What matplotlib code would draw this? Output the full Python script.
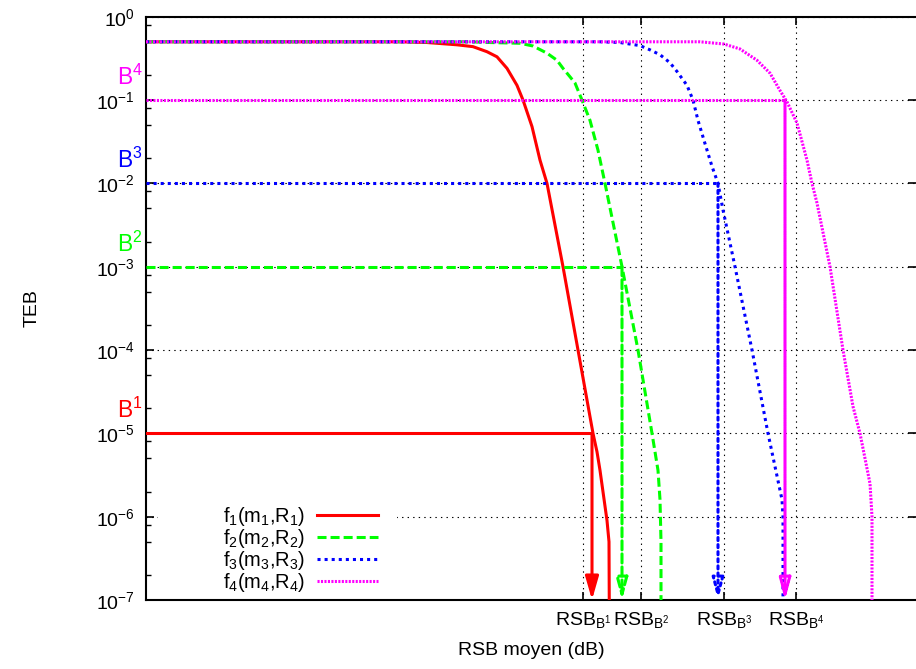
import matplotlib
matplotlib.use("Agg")
import matplotlib.pyplot as plt
from matplotlib.patches import Rectangle
from matplotlib.ticker import FixedLocator, LogLocator, NullFormatter

plt.rcParams["font.family"] = ["Liberation Sans", "DejaVu Sans"]
plt.rcParams["mathtext.fontset"] = "custom"
plt.rcParams["mathtext.rm"] = "Liberation Sans"
plt.rcParams["mathtext.it"] = "Liberation Sans"
plt.rcParams["mathtext.default"] = "regular"
plt.rcParams["lines.scale_dashes"] = False

# --- data (x: RSB moyen in dB, arbitrary origin; y: TEB)
rsb_f1 = [0.0, 12.7, 14.05, 15.55, 16.35, 17.05, 17.55, 18.05, 18.55, 18.85,
          19.3, 19.7, 20.05, 20.85, 21.6, 22.35, 22.55, 22.7, 23.05, 23.15, 23.2]
teb_f1 = [0.5, 0.5, 0.49, 0.46, 0.437, 0.38, 0.33, 0.24, 0.15, 0.10,
          0.048, 0.019, 1e-2, 1e-3, 1e-4, 1e-5, 6e-6, 3.6e-6, 9e-7, 5e-7, 1e-9]

rsb_f2 = [0.0, 16.2, 17.2, 18.7, 19.35, 20.05, 20.55, 20.85, 21.2, 21.45,
          21.8, 22.2, 22.6, 22.95, 23.8, 24.6, 25.3, 25.6, 25.7, 25.75, 25.75]
teb_f2 = [0.5, 0.5, 0.49, 0.48, 0.445, 0.365, 0.30, 0.24, 0.19, 0.16,
          0.10, 0.057, 0.025, 1e-2, 1e-3, 1e-4, 1e-5, 3.6e-6, 1.6e-6, 5e-7, 1e-9]

rsb_f3 = [0.0, 22.7, 23.7, 24.7, 25.2, 25.7, 26.2, 26.55, 27.05, 27.35, 27.6,
          27.95, 28.3, 28.6, 28.85, 29.45, 30.3, 31.1, 31.8, 31.85, 31.85]
teb_f3 = [0.5, 0.5, 0.49, 0.45, 0.40, 0.35, 0.28, 0.22, 0.15, 0.10, 0.057,
          0.03, 0.016, 1e-2, 4.8e-3, 1e-3, 1e-4, 1e-5, 1.6e-6, 1e-6, 1e-9]

rsb_f4 = [0.0, 27.7, 28.9, 29.7, 30.55, 31.2, 31.7, 32.05, 32.55, 33.05,
          33.3, 33.55, 34.2, 34.85, 35.35, 35.7, 36.2, 36.3, 36.3]
teb_f4 = [0.5, 0.5, 0.47, 0.41, 0.30, 0.21, 0.13, 0.095, 0.053, 0.019,
          1e-2, 5.8e-3, 1e-3, 1e-4, 2.1e-5, 1e-5, 2.5e-6, 1e-6, 1e-9]

series_labels = ["$f_1(m_1{,}R_1)$", "$f_2(m_2{,}R_2)$",
                 "$f_3(m_3{,}R_3)$", "$f_4(m_4{,}R_4)$"]
target_labels = ["B$^1$", "B$^2$", "B$^3$", "B$^4$"]
teb_target = [1e-5, 1e-3, 1e-2, 1e-1]
rsb_cross = [22.3, 23.8, 28.6, 31.95]

xtick_pos = [21.85, 24.75, 28.9, 32.5]
xtick_labels = ["$RSB_{B^1}$", "$RSB_{B^2}$", "$RSB_{B^3}$", "$RSB_{B^4}$"]
ytick_pos = [1e0, 1e-1, 1e-2, 1e-3, 1e-4, 1e-5, 1e-6, 1e-7]
ytick_labels = ["$10^{0}$", "$10^{-1}$", "$10^{-2}$", "$10^{-3}$",
                "$10^{-4}$", "$10^{-5}$", "$10^{-6}$", "$10^{-7}$"]

colors = ["#ff0000", "#00ff00", "#0000ff", "#ff00ff"]
styles = ["-", (0, (6.5, 2.9)), (0, (2.2, 2.9)), (0, (1.5, 1.0))]
LW = 2.2
FS = 14

fig = plt.figure(figsize=(9.16, 6.69), dpi=100)
ax = fig.add_axes([146 / 916, 69 / 669, 770 / 916, 583.3 / 669])
ax.set_yscale("log")
ax.set_xlim(0, 38.5)
ax.set_ylim(1e-7, 1e0)
ax.set_axisbelow(True)

curves = [(rsb_f1, teb_f1), (rsb_f2, teb_f2), (rsb_f3, teb_f3), (rsb_f4, teb_f4)]
for (xs, ys), c, ls, lab in zip(curves, colors, styles, series_labels):
    ax.plot(xs, ys, color=c, linestyle=ls, linewidth=LW, label=lab,
            dash_capstyle="butt", zorder=3)

# target TEB: horizontal line to the crossing, then arrow down to the axis
for thr, xc, c, ls, tl in zip(teb_target, rsb_cross, colors, styles, target_labels):
    ax.plot([0, xc], [thr, thr], color=c, linestyle=ls, linewidth=LW,
            dash_capstyle="butt", zorder=3)
    solid = ls == "-"
    head = ("-|>,head_length=1.4,head_width=0.4" if solid
            else "-|>,head_length=1.3,head_width=0.35")
    ax.annotate("", xy=(xc, 1e-7), xytext=(xc, thr),
                arrowprops=dict(arrowstyle=head, mutation_scale=10, color=c,
                                lw=LW, linestyle=ls,
                                fc=c if solid else "none",
                                shrinkA=0, shrinkB=0), zorder=3)
    ax.annotate(tl, xy=(0, thr), xycoords=("axes fraction", "data"),
                xytext=(-29, 15), textcoords="offset pixels",
                ha="left", va="baseline", color=c, fontsize=16.5)

# grid
ax.grid(True, which="major", color="black", linestyle=(0, (1, 3)), linewidth=0.8)

# white key background (hides the grid behind the key)
ax.add_patch(Rectangle((0.0156, 0.05), 0.31, 0.12, transform=ax.transAxes,
                       facecolor="white", edgecolor="none", zorder=1))

leg = ax.legend(loc="upper left", bbox_to_anchor=(0.1, 0.163), frameon=False,
                markerfirst=False, fontsize=14.5, handlelength=3.0,
                handletextpad=0.6, labelspacing=-0.05, borderpad=0,
                borderaxespad=0)

# ticks
ax.xaxis.set_major_locator(FixedLocator(xtick_pos))
ax.set_xticklabels(xtick_labels, fontsize=FS)
ax.yaxis.set_major_locator(FixedLocator(ytick_pos))
ax.set_yticklabels(ytick_labels, fontsize=FS)
ax.yaxis.set_minor_locator(LogLocator(base=10, subs=(2.0, 5.0, 8.0), numticks=20))
ax.yaxis.set_minor_formatter(NullFormatter())
ax.tick_params(axis="x", which="major", direction="in", length=6, width=1.2,
               top=True, pad=7)
ax.tick_params(axis="y", which="major", direction="in", length=6, width=1.2,
               right=True, pad=8)
ax.tick_params(axis="y", which="minor", direction="in", length=3.5, width=1.0,
               right=False)

for side in ("left", "bottom", "top"):
    ax.spines[side].set_linewidth(1.5)
ax.spines["right"].set_visible(False)

ax.set_xlabel("RSB moyen (dB)", fontsize=FS, labelpad=9)
ax.set_ylabel("TEB", fontsize=FS, labelpad=40)

fig.savefig("out.png", dpi=100)
